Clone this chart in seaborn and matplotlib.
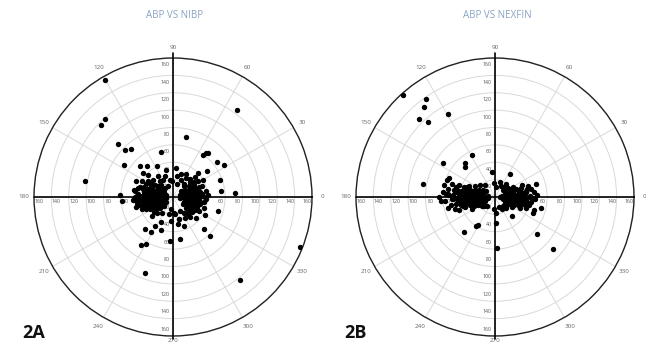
import numpy as np
import pandas as pd
import matplotlib.pyplot as plt
import seaborn as sns

sns.set_style('white')
plt.rcParams['font.family'] = ['Open Sans', 'DejaVu Sans']

titles = ['ABP VS NIBP', 'ABP VS NEXFIN']
panel_tags = ['2A', '2B']
angle_ticks = list(range(0, 360, 30))
radius_ticks = list(range(20, 161, 20))

# 2A : angle (deg) / magnitude, outliers first then the central cluster
a_theta = [120, 53.6, 131, 135, 169.5, 338.6, 309, 249.7, 78, 136, 135.6, 131.6, 147, 54.7, 53, 52,
           38, 32, 20, 6.6, 3.7, 343, 314, 313.5, 279, 265.7, 236.4, 240.4, 228.5, 237.5, 238, 104.6,
           136.5, 130, 177.5, 185, 43.8, 37.8,
           150, 155, 160, 165, 170, 175, 180, 185, 190, 195, 200, 205, 210, 215, 150, 158, 163, 168,
           172, 176, 178, 182, 186, 188, 192, 196, 198, 202, 206, 212, 145, 140, 135, 130, 128, 138,
           142, 148, 153, 157, 162, 167, 171, 174, 177, 181, 184, 187, 191, 194, 197, 201, 204, 208,
           211, 217, 220, 225, 222, 160, 170, 180, 190, 200, 165, 175, 185, 195, 155, 145,
           100, 110, 95, 105, 115, 120, 125, 118,
           0, 5, 10, 15, 20, 25, 30, 35, 40, 45, -5, -10, -15, -20, -25, -30, -35, -40, 2, 8, 12, 18,
           22, 28, 32, 38, -2, -8, -12, -18, -22, -28, -32, -38, -45, 3, -3, 6, 14, -6, 50, 55, 60,
           65, 70, 75, 80, 85, -50, -55, -60, -65, -70, -75, -80, -85, 0, 10, 20, -10, -20, 30, -30,
           42, -42,
           255, 265, 245, 275, 285, 250, 235, 260]
a_r = [156, 125, 119, 117, 103, 157, 123, 93, 71, 88, 77, 73.5, 67, 59, 63, 65,
       65, 69, 58, 56, 71, 54.5, 52, 62, 49.5, 51, 67, 62, 49, 47.5, 39.6, 53,
       52.6, 47.3, 61, 58.5, 39.6, 49.7,
       20, 28, 35, 42, 46, 40, 44, 38, 42, 36, 30, 26, 22, 18, 12, 16, 22, 26,
       30, 34, 22, 26, 30, 18, 24, 20, 14, 18, 12, 10, 25, 30, 20, 14, 24, 38,
       44, 34, 40, 46, 30, 18, 12, 16, 10, 14, 20, 12, 32, 40, 28, 38, 34, 30,
       16, 28, 20, 14, 32, 8, 22, 32, 8, 22, 36, 26, 46, 44, 20, 16,
       20, 26, 18, 32, 14, 22, 30, 40,
       30, 34, 38, 30, 24, 20, 16, 22, 26, 18, 28, 36, 32, 26, 22, 18, 14, 20, 20, 24, 14, 18,
       32, 28, 34, 12, 12, 18, 22, 14, 30, 34, 26, 28, 24, 40, 38, 10, 8, 8, 20, 26, 30,
       22, 28, 16, 24, 34, 30, 22, 28, 18, 36, 26, 32, 20, 16, 28, 36, 26, 38, 40, 42,
       34, 36,
       20, 28, 32, 18, 26, 40, 22, 14]
# 2A : dense core of the cluster
a_theta_core = [162, 166, 169, 173, 179, 183, 189, 193, 199, 203, 207, 164, 171, 176, 181, 186, 191,
                196, 159, 154, 149, 144, 214, 219, 224, 161, 168, 174, 179, 184, 190, 194, 171, 187,
                -1, 4, 9, 13, 17, 21, 26, 31, -4, -9, -13, -17, -21, -26, -31, 1, 7, 11, 16, -7, -11,
                -16, 24, -24, 36, -36, 47, -47]
a_r_core = [24, 32, 18, 28, 36, 30, 22, 34, 26, 16, 22, 40, 34, 14, 38, 42, 28,
            32, 26, 34, 30, 22, 24, 16, 26, 14, 10, 20, 42, 34, 16, 26, 44, 36,
            22, 26, 18, 22, 30, 12, 24, 28, 20, 24, 28, 22, 16, 26, 30, 34, 16, 32, 26, 30, 14,
            20, 26, 14, 30, 24, 28, 26]

# 2B : angle (deg) / magnitude
b_theta = [132, 125.2, 128.5, 134.4, 132, 119.2, 169.9, 146.3, 119.2, 160.4, 158, 134.7, 131, 96.7,
           56.7, 17.9, 346.6, 318.1, 317.8, 272.6, 228.7, 239.3, 236, 271.5, 311.9, 337.2, 342.3, 182.7,
           180, 180, 180, 180, 180, 178, 176, 174, 172, 170, 182, 184, 186, 188, 190, 168, 165, 162,
           160, 158, 192, 195, 198, 200, 203, 175, 185, 177, 183, 171, 189, 166, 194, 163, 197, 155,
           150, 205, 210, 145, 215, 173, 187, 169, 191, 179, 181, 176, 184, 167, 193, 161, 199, 157,
           203, 174, 186, 152, 208, 170, 190, 178, 182, 165, 195, 160, 200, 175, 185, 180, 172, 188,
           140, 220, 130, 230,
           0, 0, 0, 0, 2, 4, 6, 8, -2, -4, -6, -8, 10, 12, 14, -10, -12, -14, 16, 18, 20, -16, -18,
           -20, 22, 25, -22, -25, 28, -28, 30, -30, 35, -35, 40, -40, 3, -3, 5, -5, 9, -9, 13, -13,
           7, -7, 11, -11, 15, -15, 24, -24, 1, -1, 19, -19, 45, -45, 50, -50, 60, -60, 70, -70, 85,
           95, 265, 275]
b_r = [158, 137.5, 132, 125, 116, 110, 84, 71.5, 55.4, 59, 57, 49, 52, 29.5,
       32, 49.6, 54.4, 64.5, 89.6, 58.3, 53.7, 38, 40, 29.7, 29.7, 47, 47.6, 48,
       10, 20, 30, 40, 50, 15, 25, 35, 45, 55, 12, 22, 32, 42, 52, 18, 28, 38,
       24, 14, 16, 26, 36, 20, 12, 60, 58, 48, 44, 33, 28, 46, 40, 52, 48, 20,
       16, 22, 14, 12, 18, 18, 18, 24, 34, 36, 26, 54, 62, 60, 56, 44, 30, 32,
       26, 8, 8, 26, 30, 40, 46, 42, 38, 14, 12, 34, 44, 28, 24, 64, 24, 36,
       22, 16, 18, 14,
       10, 20, 30, 40, 15, 25, 35, 45, 12, 22, 32, 42, 18, 28, 38, 16, 26, 36, 22, 32, 14, 20, 30,
       12, 26, 20, 24, 18, 16, 14, 24, 22, 18, 16, 12, 14, 48, 46, 8, 6, 30, 28, 42, 40,
       20, 18, 36, 34, 12, 10, 34, 32, 26, 34, 40, 38, 16, 18, 20, 14, 14, 16, 18, 12, 12,
       16, 14, 18]
# 2B : dense core of the cluster
b_theta_core = [179, 177, 181, 175, 185, 173, 187, 171, 189, 169, 191, 178, 182, 176, 184, 174, 186,
                172, 188, 170, 190, 167, 193, 164, 196, 180, 178, 182, 183, 177,
                1, -1, 3, -3, 5, -5, 7, -7, 9, -9, 11, -11, 14, -14, 17, -17, 21, -21,
                2, -2, 6, -6, 10, -10]
b_r_core = [18, 26, 34, 42, 30, 22, 38, 48, 16, 28, 36, 54, 46, 20, 26, 32, 40,
            36, 30, 44, 20, 34, 24, 30, 38, 22, 32, 28, 50, 56,
            14, 18, 24, 28, 32, 36, 20, 26, 16, 22, 30, 38, 18, 24, 28, 14, 22, 30,
            40, 44, 12, 16, 36, 32]

panels = [pd.DataFrame({'theta': np.deg2rad(a_theta + a_theta_core), 'r': a_r + a_r_core}),
          pd.DataFrame({'theta': np.deg2rad(b_theta + b_theta_core), 'r': b_r + b_r_core})]

fig = plt.figure(figsize=(6.46, 3.44), dpi=100)
centers_x = [173, 495]
for i, df in enumerate(panels):
    cx = centers_x[i]
    ax = fig.add_axes([(cx - 139) / 646, 8 / 344, 278 / 646, 278 / 344], projection='polar')
    sns.scatterplot(data=df, x='theta', y='r', ax=ax, color='black', s=15,
                    linewidth=0, legend=False, zorder=5)
    ax.set_xlabel('')
    ax.set_ylabel('')
    ax.set_ylim(0, 160)
    ax.set_rgrids(radius_ticks, labels=[''] * len(radius_ticks))
    # 270 sits right at the lower edge, drawn separately so it stays inside the figure
    ax.set_thetagrids(angle_ticks, labels=['' if a == 270 else str(a) for a in angle_ticks])
    ax.tick_params(axis='x', labelsize=4.5, labelcolor='#666666', pad=-3)
    ax.annotate('270', xy=(3 * np.pi / 2, 160), xytext=(0, -3.3), textcoords='offset points',
                ha='center', va='center', fontsize=4.5, color='#666666', annotation_clip=False)
    ax.grid(color='#d9d9d9', linewidth=0.7)
    ax.spines['polar'].set_color('#222222')
    ax.spines['polar'].set_linewidth(1.0)

    # black axis cross
    for t, rmax in [(0, 160), (np.pi, 160), (np.pi / 2, 166), (3 * np.pi / 2, 163)]:
        ax.plot([t, t], [0, rmax], color='black', lw=1.2, clip_on=False, zorder=4)

    # radial scale labels along the cross
    for rv in radius_ticks:
        ax.annotate(str(rv), xy=(0, rv), xytext=(-3.5, -3.5), textcoords='offset points',
                    ha='center', va='center', fontsize=3.8, color='#555555', zorder=3)
        ax.annotate(str(rv), xy=(np.pi, rv), xytext=(3.5, -3.5), textcoords='offset points',
                    ha='center', va='center', fontsize=3.8, color='#555555', zorder=3)
        ax.annotate(str(rv), xy=(np.pi / 2, rv), xytext=(-2.5, -5), textcoords='offset points',
                    ha='right', va='center', fontsize=3.8, color='#555555', zorder=3)
        ax.annotate(str(rv), xy=(3 * np.pi / 2, rv), xytext=(-2.5, 5), textcoords='offset points',
                    ha='right', va='center', fontsize=3.8, color='#555555', zorder=3)

    fig.text((cx + 2) / 646, 1 - 15 / 344, titles[i], ha='center', va='center',
             color='#8aa3c2', fontsize=7)
    fig.text((cx - 151) / 646, 1 - 333 / 344, panel_tags[i], ha='left', va='center',
             fontsize=13, fontweight='bold', color='#111111')

fig.savefig('out.png', dpi=100)
